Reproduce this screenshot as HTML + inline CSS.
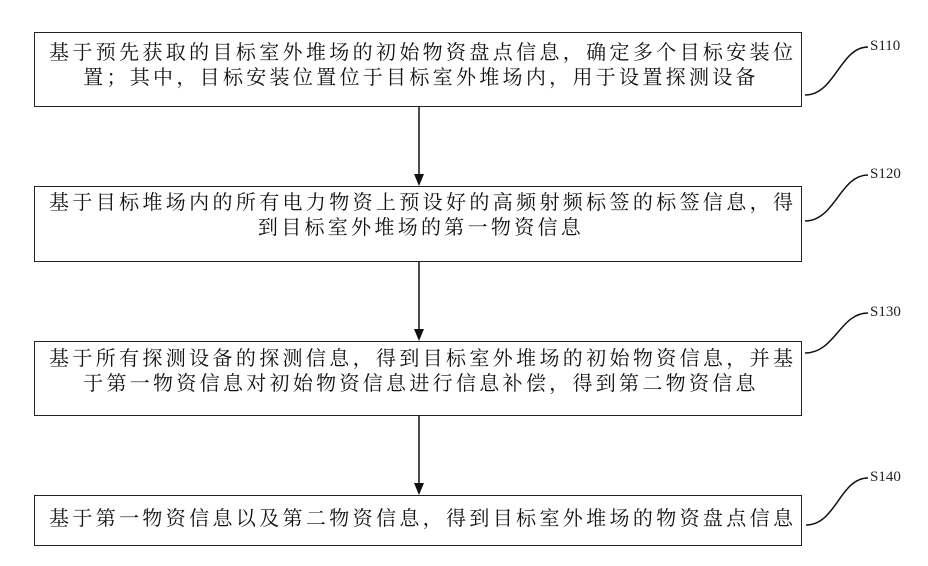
<!DOCTYPE html>
<html><head><meta charset="utf-8"><style>
body{margin:0;background:#fff;width:928px;height:566px;position:relative;overflow:hidden;font-family:"Liberation Serif","Noto Serif CJK SC",serif;}
.box{position:absolute;left:34px;width:768px;border:1.5px solid #222;box-sizing:border-box;}
.ln{position:absolute;left:14px;right:8px;font-size:20px;line-height:25px;color:#111;white-space:nowrap;}
.j{text-align:justify;text-align-last:justify;}
.c{text-align:center;letter-spacing:3.3px;}
.lab{position:absolute;left:870px;font-size:15px;color:#222;}
</style></head><body>
<svg width="928" height="566" style="position:absolute;left:0;top:0">
<g stroke="#111" stroke-width="1.5" fill="none">
<line x1="419" y1="107" x2="419" y2="176"/>
<line x1="419" y1="262" x2="419" y2="331"/>
<line x1="419" y1="416" x2="419" y2="485"/>
<path d="M805 95 C835 95,840 47,868 47"/>
<path d="M805 221 C835 221,840 175,868 175"/>
<path d="M805 353 C835 353,840 313,868 313"/>
<path d="M806 525 C836 525,840 478,868 478"/>
</g>
<g fill="#111">
<polygon points="414,174 424,174 419,186"/>
<polygon points="414,329 424,329 419,341"/>
<polygon points="414,483 424,483 419,495"/>
</g>
</svg>
<div class="box" style="top:32px;height:75px">
<div class="ln j" style="top:8px">基于预先获取的目标室外堆场的初始物资盘点信息，确定多个目标安装位</div>
<div class="ln c" style="top:33px">置；其中，目标安装位置位于目标室外堆场内，用于设置探测设备</div>
</div>
<div class="box" style="top:186px;height:76px">
<div class="ln j" style="top:4px">基于目标堆场内的所有电力物资上预设好的高频射频标签的标签信息，得</div>
<div class="ln c" style="top:29px">到目标室外堆场的第一物资信息</div>
</div>
<div class="box" style="top:341px;height:75px">
<div class="ln j" style="top:5px">基于所有探测设备的探测信息，得到目标室外堆场的初始物资信息，并基</div>
<div class="ln c" style="top:30px">于第一物资信息对初始物资信息进行信息补偿，得到第二物资信息</div>
</div>
<div class="box" style="top:495px;height:51px">
<div class="ln j" style="top:11px">基于第一物资信息以及第二物资信息，得到目标室外堆场的物资盘点信息</div>
</div>
<div class="lab" style="top:38px">S110</div>
<div class="lab" style="top:166px">S120</div>
<div class="lab" style="top:304px">S130</div>
<div class="lab" style="top:469px">S140</div>
</body></html>
